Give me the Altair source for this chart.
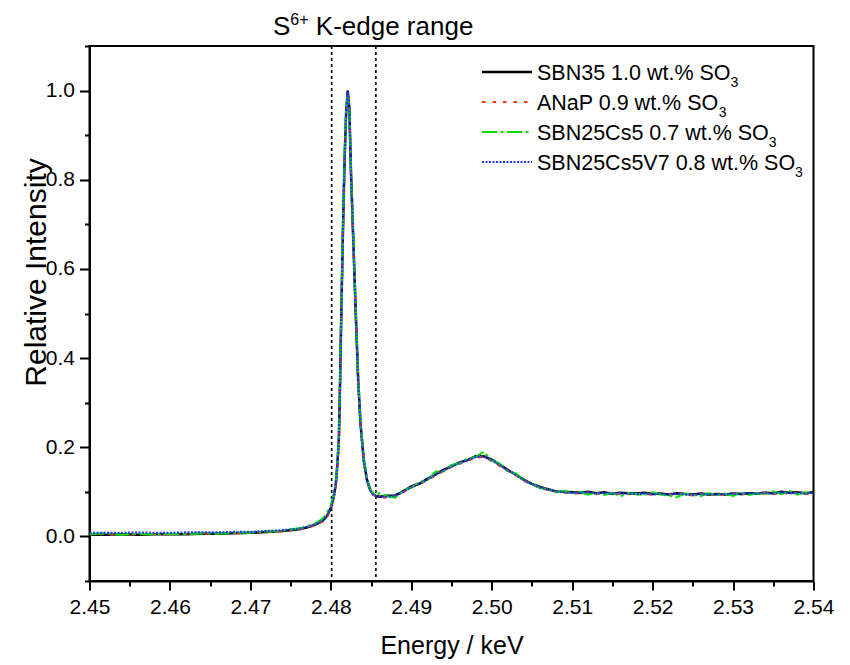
import altair as alt
import pandas as pd

# ---------------- data ----------------
energy = [2.450, 2.452, 2.454, 2.456, 2.458, 2.460, 2.462, 2.464, 2.466, 2.468,
          2.470, 2.472, 2.474, 2.476, 2.477, 2.478, 2.479, 2.4795,
          2.4800, 2.4803, 2.4806, 2.4808, 2.4810, 2.4811, 2.4813, 2.4815, 2.4817, 2.4819,
          2.4821, 2.4823, 2.4825, 2.4828, 2.4831, 2.4834, 2.4837, 2.4841, 2.4845, 2.4849,
          2.4853, 2.4857,
          2.486, 2.487, 2.488, 2.489, 2.490, 2.491, 2.492, 2.493, 2.494, 2.495,
          2.496, 2.497, 2.498, 2.499, 2.500, 2.501, 2.502, 2.503, 2.504, 2.505,
          2.506, 2.507, 2.508, 2.509, 2.510, 2.511, 2.512, 2.513, 2.514, 2.515,
          2.516, 2.517, 2.518, 2.519, 2.520, 2.521, 2.522, 2.523, 2.524, 2.525,
          2.526, 2.527, 2.528, 2.529, 2.530, 2.531, 2.532, 2.533, 2.534, 2.535,
          2.536, 2.537, 2.538, 2.539, 2.540]

sbn35 = [0.004, 0.004, 0.005, 0.004, 0.005, 0.005, 0.005, 0.006, 0.006, 0.007,
         0.008, 0.010, 0.012, 0.016, 0.020, 0.026, 0.035, 0.045,
         0.064, 0.084, 0.114, 0.158, 0.220, 0.300, 0.500, 0.680, 0.840, 0.950,
         1.000, 0.960, 0.820, 0.660, 0.500, 0.350, 0.250, 0.170, 0.126, 0.104,
         0.094, 0.090,
         .089, .091, .092, .101, .112, .118, .129, .139, .149, .157,
         .166, .171, .180, .180, .172, .161, .149, .139, .127, .118,
         .111, .106, .101, .100, .099, .098, .100, .097, .099, .096,
         .098, .097, .096, .098, .095, .096, .094, .097, .095, .094,
         .096, .094, .095, .094, .096, .095, .097, .096, .098, .097,
         .100, .098, .099, .097, .099]

anap = [0.005, 0.005, 0.004, 0.005, 0.005, 0.004, 0.006, 0.006, 0.007, 0.007,
        0.008, 0.010, 0.012, 0.015, 0.019, 0.025, 0.033, 0.043,
        0.060, 0.080, 0.110, 0.150, 0.210, 0.290, 0.490, 0.670, 0.830, 0.945,
        0.995, 0.955, 0.815, 0.650, 0.490, 0.345, 0.245, 0.168, 0.124, 0.102,
        0.093, 0.089,
        .088, .087, .090, .099, .110, .117, .127, .136, .147, .156,
        .163, .170, .176, .179, .169, .158, .147, .137, .125, .116,
        .109, .104, .100, .098, .097, .096, .098, .095, .097, .095,
        .096, .095, .094, .096, .093, .095, .093, .095, .094, .092,
        .095, .093, .094, .093, .095, .094, .096, .095, .097, .095,
        .098, .096, .097, .095, .097]

sbn25cs5 = [0.005, 0.007, 0.004, 0.006, 0.005, 0.006, 0.005, 0.007, 0.006, 0.008,
            0.009, 0.011, 0.013, 0.018, 0.022, 0.028, 0.040, 0.052,
            0.070, 0.088, 0.118, 0.160, 0.225, 0.305, 0.505, 0.690, 0.850, 0.955,
            0.990, 0.955, 0.825, 0.665, 0.505, 0.355, 0.255, 0.175, 0.130, 0.106,
            0.095, 0.092,
            .097, .090, .087, .104, .109, .122, .126, .145, .146, .160,
            .164, .175, .178, .190, .170, .163, .146, .141, .125, .119,
            .108, .107, .099, .102, .096, .100, .094, .099, .093, .098,
            .090, .097, .095, .093, .099, .094, .092, .088, .096, .093,
            .091, .097, .092, .096, .091, .098, .093, .097, .094, .101,
            .095, .102, .094, .099, .096]

sbn25cs5v7 = [0.008, 0.008, 0.008, 0.009, 0.008, 0.008, 0.009, 0.009, 0.009, 0.010,
              0.010, 0.012, 0.014, 0.017, 0.021, 0.027, 0.036, 0.046,
              0.063, 0.083, 0.113, 0.156, 0.218, 0.298, 0.498, 0.678, 0.838, 0.948,
              0.998, 0.958, 0.818, 0.658, 0.498, 0.348, 0.248, 0.169, 0.125, 0.103,
              0.093, 0.090,
              .089, .089, .091, .100, .111, .118, .128, .138, .148, .157,
              .165, .171, .178, .180, .171, .160, .148, .138, .126, .117,
              .110, .105, .101, .099, .098, .097, .099, .096, .098, .096,
              .097, .096, .095, .097, .094, .096, .094, .096, .095, .093,
              .095, .094, .095, .094, .096, .095, .097, .096, .098, .096,
              .099, .097, .098, .096, .098]

series_labels = ["SBN35 1.0 wt.% SO", "ANaP 0.9 wt.% SO",
                 "SBN25Cs5 0.7 wt.% SO", "SBN25Cs5V7 0.8 wt.% SO"]
series_values = [sbn35, anap, sbn25cs5, sbn25cs5v7]
edge_range = [2.4801, 2.4856]
x_tick_values = [2.450, 2.455, 2.460, 2.465, 2.470, 2.475, 2.480, 2.485, 2.490, 2.495,
                 2.500, 2.505, 2.510, 2.515, 2.520, 2.525, 2.530, 2.535, 2.540]
y_tick_values = [-0.1, 0.0, 0.1, 0.2, 0.3, 0.4, 0.5, 0.6, 0.7, 0.8, 0.9, 1.0, 1.1]
title_parts = ["S", "6+", "K-edge range"]

for v in series_values:
    assert len(v) == len(energy), (len(v), len(energy))

# ---------------- styles ----------------
FONT = "Liberation Sans"
colors = ["#000000", "#ff3319", "#00e000", "#1f3cff"]
dashes = [None, [3.5, 7], [15, 3.5, 3, 3.5], [2, 1.5]]
widths = [2.5, 2.2, 2.2, 2.2]

W, H = 724, 535
PAD_L, PAD_T = 89.5, 46

ARIAL = {' ': 278, '%': 889, '+': 584, '-': 333, '.': 278, '/': 278,
         'A': 667, 'B': 667, 'C': 722, 'K': 667, 'N': 722, 'O': 778, 'P': 667,
         'S': 667, 'V': 667, 'a': 556, 'd': 556, 'e': 556, 'g': 556, 'n': 556,
         'r': 333, 's': 500, 't': 278, 'w': 722}


def text_width(s, size):
    return sum(ARIAL.get(c, 556) for c in s) / 1000.0 * size


xs = alt.Scale(domain=[2.45, 2.54], nice=False, zero=False)
ys = alt.Scale(domain=[-0.1, 1.1], nice=False, zero=False)

x_major = "abs(datum.value*100 - round(datum.value*100)) < 0.01"
y_major = "abs(datum.value*5 - round(datum.value*5)) < 0.01"

xaxis = alt.Axis(values=x_tick_values, grid=False, labelFlush=False, labelOverlap=False,
                 labelExpr=f"{x_major} ? format(datum.value, '.2f') : ''",
                 tickSize={"condition": {"test": x_major, "value": 9}, "value": 5},
                 labelFontSize=21, labelPadding=6, title="Energy / keV",
                 titleFontSize=25, titleFontWeight="normal", titlePadding=16)
yaxis = alt.Axis(values=y_tick_values, grid=False, labelFlush=False, labelOverlap=False,
                 labelExpr=f"{y_major} ? format(datum.value, '.1f') : ''",
                 tickSize={"condition": {"test": y_major, "value": 10}, "value": 5},
                 labelFontSize=21, labelPadding=5, title="Relative Intensity",
                 titleFontSize=30, titleFontWeight="normal",
                 titleX=45 - PAD_L, titleY=272 - PAD_T, titleAlign="center",
                 titleBaseline="alphabetic")

layers = []

# dotted vertical lines marking the K-edge range
edge_df = pd.DataFrame({"energy": edge_range})
layers.append(alt.Chart(edge_df).mark_rule(color="black", strokeWidth=1.6, strokeDash=[3, 3]).encode(
    x=alt.X("energy:Q", scale=xs, axis=xaxis)))

# spectra
for lab, vals, col, dsh, wd in zip(series_labels, series_values, colors, dashes, widths):
    df = pd.DataFrame({"energy": energy, "value": vals})
    props = dict(color=col, strokeWidth=wd, clip=True)
    if dsh is not None:
        props["strokeDash"] = dsh
    layers.append(alt.Chart(df).mark_line(**props).encode(
        x=alt.X("energy:Q", scale=xs, axis=xaxis),
        y=alt.Y("value:Q", scale=ys, axis=yaxis),
        order="energy:Q"))

# manual legend (lines + labels with subscript 3)
row_y = [72 - PAD_T, 102 - PAD_T, 132 - PAD_T, 162 - PAD_T]
lx1, lx2, tx = 482 - PAD_L, 532 - PAD_L, 537 - PAD_L
LFS, SFS = 21.5, 14
for lab, col, dsh, wd, ry in zip(series_labels, colors, dashes, widths, row_y):
    props = dict(color=col, strokeWidth=wd)
    if dsh is not None:
        props["strokeDash"] = dsh
    layers.append(alt.Chart(pd.DataFrame({"t": [lab]})).mark_rule(**props).encode(
        x=alt.value(lx1), x2=alt.value(lx2), y=alt.value(ry)))
    layers.append(alt.Chart(pd.DataFrame({"t": [lab]})).mark_text(
        align="left", baseline="alphabetic", font=FONT, fontSize=LFS, color="black").encode(
        x=alt.value(tx), y=alt.value(ry + 7.5), text="t:N"))
    layers.append(alt.Chart(pd.DataFrame({"t": ["3"]})).mark_text(
        align="left", baseline="alphabetic", font=FONT, fontSize=SFS, color="black").encode(
        x=alt.value(tx + text_width(lab, LFS)), y=alt.value(ry + 14.5), text="t:N"))

# title "S^6+ K-edge range"
TFS, SUP = 26, 16
t0 = 273 - PAD_L
base = 35 - PAD_T
x_sup = t0 + text_width("S", TFS)
x_main = x_sup + text_width("6+", SUP) + text_width(" ", TFS)
pos = [t0, x_sup, x_main]
sizes = [TFS, SUP, TFS]
offs = [0, -10, 0]
for part, px, fs, off in zip(title_parts, pos, sizes, offs):
    layers.append(alt.Chart(pd.DataFrame({"t": [part]})).mark_text(
        align="left", baseline="alphabetic", font=FONT, fontSize=fs, color="black").encode(
        x=alt.value(px), y=alt.value(base + off), text="t:N"))

chart = alt.layer(*layers).properties(
    width=W, height=H,
    padding={"left": PAD_L, "top": PAD_T, "right": 850 - PAD_L - W, "bottom": 665 - PAD_T - H},
    autosize=alt.AutoSizeParams(type="none"),
    background="white",
).configure_view(
    stroke="black", strokeWidth=2
).configure_axis(
    domainColor="black", domainWidth=2, tickColor="black", tickWidth=2,
    labelColor="black", titleColor="black", labelFont=FONT, titleFont=FONT
)

chart.save("out.html", embed_options={"renderer": "svg", "actions": False})
